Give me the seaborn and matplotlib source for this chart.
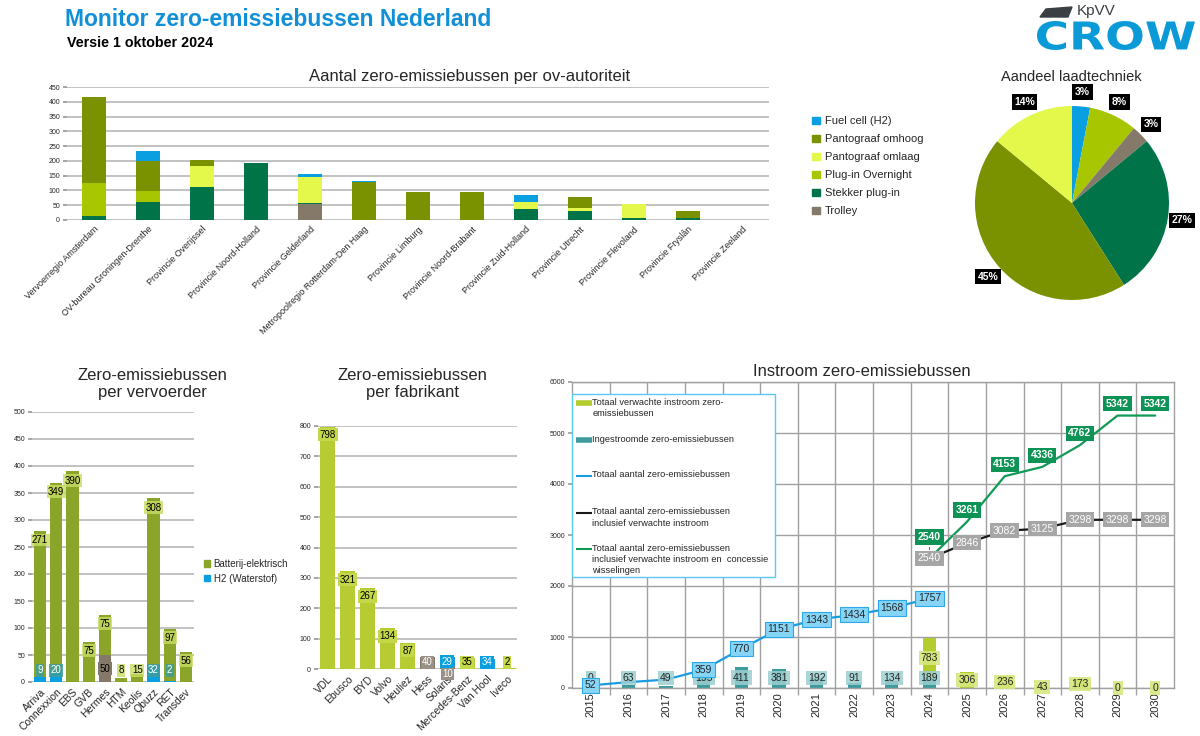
import numpy as np
import pandas as pd
import matplotlib
matplotlib.use("Agg")
import matplotlib.pyplot as plt
import seaborn as sns
from matplotlib.patches import Patch, Polygon, Rectangle, PathPatch
from matplotlib.lines import Line2D
from matplotlib.textpath import TextPath
from matplotlib.font_manager import FontProperties
from matplotlib.transforms import Affine2D

# ---------------- data ----------------
autoriteiten = ["Vervoerregio Amsterdam", "OV-bureau Groningen-Drenthe", "Provincie Overijssel",
                "Provincie Noord-Holland", "Provincie Gelderland", "Metropoolregio Rotterdam-Den Haag",
                "Provincie Limburg", "Provincie Noord-Brabant", "Provincie Zuid-Holland",
                "Provincie Utrecht", "Provincie Flevoland", "Provincie Fryslân", "Provincie Zeeland"]
trolley = [0, 0, 0, 0, 53, 0, 0, 0, 0, 0, 0, 0, 0]
stekker = [12, 62, 110, 194, 6, 0, 0, 0, 36, 29, 8, 8, 0]
overnight = [113, 35, 0, 0, 0, 0, 0, 0, 0, 0, 0, 0, 0]
omlaag = [0, 0, 74, 0, 85, 0, 0, 0, 25, 13, 45, 0, 0]
omhoog = [292, 101, 20, 0, 0, 128, 96, 95, 0, 36, 0, 22, 0]
fuelcell = [0, 35, 0, 0, 12, 3, 0, 0, 24, 0, 0, 0, 0]

laadtechniek = ["Fuel cell (H2)", "Plug-in Overnight", "Trolley", "Stekker plug-in",
                "Pantograaf omhoog", "Pantograaf omlaag"]
aandeel = [3, 8, 3, 27, 45, 14]

vervoerders = ["Arriva", "Connexxion", "EBS", "GVB", "Hermes", "HTM", "Keolis", "Qbuzz", "RET", "Transdev"]
v_trolley = [0, 0, 0, 0, 50, 0, 0, 0, 0, 0]
v_h2 = [9, 20, 0, 0, 0, 0, 0, 32, 2, 0]
v_batterij = [271, 349, 390, 75, 75, 8, 15, 308, 97, 56]

fabrikanten = ["VDL", "Ebusco", "BYD", "Volvo", "Heuliez", "Hess", "Solaris", "Mercedes-Benz", "Van Hool", "Iveco"]
f_trolley = [0, 0, 0, 0, 0, 40, 10, 0, 0, 0]
f_h2 = [0, 0, 0, 0, 0, 0, 29, 0, 34, 0]
f_batterij = [798, 321, 267, 134, 87, 0, 0, 35, 0, 2]

jaren = [str(j) for j in range(2015, 2031)]
nan = np.nan
ingestroomd = [0, 63, 49, 195, 411, 381, 192, 91, 134, 189, nan, nan, nan, nan, nan, nan]
verwacht = [nan] * 9 + [783, 306, 236, 43, 173, 0, 0]
totaal = [52, 115, 164, 359, 770, 1151, 1343, 1434, 1568, 1757, nan, nan, nan, nan, nan, nan]
incl_verwacht = [nan] * 9 + [2540, 2846, 3082, 3125, 3298, 3298, 3298]
incl_concessie = [nan] * 9 + [2540, 3261, 4153, 4336, 4762, 5342, 5342]
verborgen_labels = ["2016", "2017"]

# ---------------- style ----------------
sns.set_theme(style="white")
plt.rcParams['font.family'] = ['Liberation Sans', 'DejaVu Sans']

BLAUW = "#0a9fe0"
OMHOOG = "#7b9200"
OMLAAG = "#e3f84a"
OVERNIGHT = "#a8c600"
STEKKER = "#007448"
TROLLEY = "#857a6a"
GRID = "#bdbdbd"

fig = plt.figure(figsize=(12, 7.36), dpi=100)


def box(x0, y0, x1, y1):
    return [x0 / 1200, 1 - y1 / 736, (x1 - x0) / 1200, (y1 - y0) / 736]


def fx(x):
    return x / 1200


def fy(y):
    return 1 - y / 736


def gestapeld(ax, cats, lagen, kleuren, breedte):
    cum = np.cumsum(np.nan_to_num(np.array(lagen, dtype=float)), axis=0)
    for i in range(len(lagen) - 1, -1, -1):
        sns.barplot(x=cats, y=cum[i], color=kleuren[i], width=breedte, saturation=1,
                    errorbar=None, linewidth=0, ax=ax)
    return cum


def kaal(ax):
    for s in ax.spines.values():
        s.set_visible(False)
    ax.set_axisbelow(True)
    ax.yaxis.grid(True, color=GRID, lw=1.3)
    ax.xaxis.grid(False)
    ax.tick_params(axis="y", length=3, color="#999999", labelsize=5, pad=2, left=True)
    ax.tick_params(axis="x", length=0)
    ax.set_xlabel("")
    ax.set_ylabel("")


# ---------------- header ----------------
fig.text(fx(65), fy(20), "Monitor zero-emissiebussen Nederland", color="#1190d8",
         fontsize=16.5, fontweight="bold", va="center")
fig.text(fx(67), fy(43), "Versie 1 oktober 2024", color="black", fontsize=10.3,
         fontweight="bold", va="center")

# logo: text path stretched into its box
tp = TextPath((0, 0), "CROW", size=1, prop=FontProperties(family="DejaVu Sans", weight="bold"))
ext = tp.get_extents()
x0, x1, y0, y1 = 1037, 1195, 21, 50
logo_tf = (Affine2D().translate(-ext.x0, -ext.y0)
           .scale((x1 - x0) / 1200 / ext.width, (y1 - y0) / 736 / ext.height)
           .translate(fx(x0), fy(y1)) + fig.transFigure)
fig.patches.append(PathPatch(tp, transform=logo_tf, color="#0a9ad8", lw=0))
fig.text(fx(1077), fy(11), "KpVV", color="#3a3f44", fontsize=11, va="center", ha="left")
fig.patches.append(Polygon([(fx(1040), fy(17)), (fx(1046), fy(9)), (fx(1072), fy(7)),
                            (fx(1068), fy(17))], closed=True, transform=fig.transFigure,
                           color="#3a3f44"))

# ---------------- per ov-autoriteit ----------------
ax1 = fig.add_axes(box(67, 87, 769, 220))
lagen1 = [trolley, stekker, overnight, omlaag, omhoog, fuelcell]
kleuren1 = [TROLLEY, STEKKER, OVERNIGHT, OMLAAG, OMHOOG, BLAUW]
gestapeld(ax1, autoriteiten, lagen1, kleuren1, 0.44)
kaal(ax1)
ax1.set_ylim(0, 450)
ax1.set_yticks(range(0, 451, 50))
ax1.set_xticks(range(len(autoriteiten)))
ax1.set_xticklabels(autoriteiten, rotation=45, ha="right", rotation_mode="anchor", fontsize=6.5)
fig.text(fx(470), fy(77), "Aantal zero-emissiebussen per ov-autoriteit", ha="center",
         va="center", fontsize=12)
leg1 = [Patch(color=c, label=l) for c, l in zip(
    [BLAUW, OMHOOG, OMLAAG, OVERNIGHT, STEKKER, TROLLEY],
    ["Fuel cell (H2)", "Pantograaf omhoog", "Pantograaf omlaag", "Plug-in Overnight",
     "Stekker plug-in", "Trolley"])]
fig.legend(handles=leg1, loc="upper left", bbox_to_anchor=(fx(808), fy(112)), frameon=False,
           fontsize=8, handlelength=0.7, handleheight=0.7, handletextpad=0.4, labelspacing=0.72,
           borderaxespad=0)

# ---------------- pie ----------------
axp = fig.add_axes(box(975, 106, 1169, 300))
pie_kleur = {"Fuel cell (H2)": BLAUW, "Plug-in Overnight": OVERNIGHT, "Trolley": TROLLEY,
             "Stekker plug-in": STEKKER, "Pantograaf omhoog": OMHOOG, "Pantograaf omlaag": OMLAAG}
wedges, teksten = axp.pie(aandeel, colors=[pie_kleur[l] for l in laadtechniek], startangle=90,
                          counterclock=False, labels=[f"{a}%" for a in aandeel],
                          labeldistance=1.15, wedgeprops=dict(linewidth=0))
for t in teksten:
    t.set_ha("center")
    t.set_va("center")
    t.set_color("white")
    t.set_fontweight("bold")
    t.set_fontsize(7.5)
    t.set_bbox(dict(boxstyle="square,pad=0.25", fc="black", ec="none"))
axp.set_xlim(-1, 1)
axp.set_ylim(-1, 1)
fig.text(fx(1071), fy(77), "Aandeel laadtechniek", ha="center", va="center", fontsize=10.5)


def labels(ax, cats, lagen, label_stijl, min_y, offset):
    arr = np.nan_to_num(np.array(lagen, dtype=float))
    cum = np.cumsum(arr, axis=0)
    for li, laag in enumerate(arr):
        stijl = label_stijl[li]
        for i, v in enumerate(laag):
            if v <= 0:
                continue
            onder = cum[li][i] - v
            boven_iets = cum[-1][i] > cum[li][i]
            if stijl["mode"] == "top":
                y = max(cum[li][i] - offset, min_y)
            elif v < 15 and boven_iets and onder == 0 and stijl.get("below"):
                y = -offset * 0.6
            else:
                y = max(onder + v / 2, min_y)
            ax.text(i, y, f"{int(v)}", ha="center", va="center", fontsize=7, color=stijl["tc"],
                    bbox=dict(boxstyle="square,pad=0.15", fc=stijl["fc"], ec="none",
                              alpha=stijl.get("alpha", 1)), clip_on=False, zorder=5)


# ---------------- per vervoerder ----------------
ax3 = fig.add_axes(box(32, 412, 194, 682))
V_BAT = "#8aa52a"
lagen3 = [v_trolley, v_h2, v_batterij]
gestapeld(ax3, vervoerders, lagen3, [TROLLEY, BLAUW, V_BAT], 0.75)
kaal(ax3)
ax3.set_ylim(0, 500)
ax3.set_yticks(range(0, 501, 50))
ax3.set_xticks(range(len(vervoerders)))
ax3.set_xticklabels(vervoerders, rotation=45, ha="right", rotation_mode="anchor", fontsize=7.5)
labels(ax3, vervoerders, lagen3,
       [dict(mode="mid", fc=TROLLEY, tc="black"),
        dict(mode="mid", fc="#3f9d9a", tc="white", alpha=0.85),
        dict(mode="top", fc="#c9dd63", tc="black", alpha=0.8)], 22, 17)
fig.text(fx(152), fy(384), "Zero-emissiebussen\nper vervoerder", ha="center", va="center",
         fontsize=12, linespacing=1.1)
fig.legend(handles=[Patch(color=V_BAT, label="Batterij-elektrisch"),
                    Patch(color=BLAUW, label="H2 (Waterstof)")],
           loc="upper left", bbox_to_anchor=(fx(200), fy(555)), frameon=False, fontsize=7,
           handlelength=0.6, handleheight=0.6, handletextpad=0.4, labelspacing=0.5,
           borderaxespad=0)

# ---------------- per fabrikant ----------------
ax4 = fig.add_axes(box(318, 426, 517, 669))
F_BAT = "#b6cc32"
lagen4 = [f_trolley, f_h2, f_batterij]
gestapeld(ax4, fabrikanten, lagen4, [TROLLEY, BLAUW, F_BAT], 0.75)
kaal(ax4)
ax4.set_ylim(0, 800)
ax4.set_yticks(range(0, 801, 100))
ax4.set_xticks(range(len(fabrikanten)))
ax4.set_xticklabels(fabrikanten, rotation=45, ha="right", rotation_mode="anchor", fontsize=7.5)
labels(ax4, fabrikanten, lagen4,
       [dict(mode="mid", fc="#9a9186", tc="white", below=True),
        dict(mode="mid", fc=BLAUW, tc="white"),
        dict(mode="top", fc="#c4d84a", tc="black")], 22, 27)
fig.text(fx(412), fy(384), "Zero-emissiebussen\nper fabrikant", ha="center", va="center",
         fontsize=12, linespacing=1.1)

# ---------------- instroom ----------------
ax5 = fig.add_axes(box(572, 382, 1174, 688))
TEAL = "#3f9a9e"
I_GROEN = "#b5cc2e"
gestapeld(ax5, jaren, [ingestroomd, verwacht], [TEAL, I_GROEN], 0.35)
df = pd.DataFrame({"pos": np.arange(len(jaren)), "jaar": jaren, "totaal": totaal,
                   "incl_verwacht": incl_verwacht, "incl_concessie": incl_concessie,
                   "ingestroomd": ingestroomd, "verwacht": verwacht})
for kol, kleur in [("totaal", "#1b9be0"), ("incl_verwacht", "#1a1a1a"), ("incl_concessie", "#119a55")]:
    d = df.dropna(subset=[kol])
    sns.lineplot(data=d, x="pos", y=kol, color=kleur, lw=1.6, ax=ax5, zorder=3)

ax5.set_xlim(-0.5, len(jaren) - 0.5)
ax5.set_ylim(0, 6000)
ax5.set_yticks(range(0, 6001, 1000))
ax5.set_xticks(range(len(jaren)))
ax5.set_xticklabels(jaren, rotation=90, fontsize=8)
ax5.set_xticks(np.arange(len(jaren) - 1) + 0.5, minor=True)
ax5.set_axisbelow(True)
ax5.yaxis.grid(True, color="#a0a0a0", lw=1)
ax5.xaxis.grid(True, which="minor", color="#a0a0a0", lw=1)
ax5.xaxis.grid(False, which="major")
ax5.tick_params(axis="x", which="major", length=0, pad=3)
ax5.tick_params(axis="x", which="minor", length=5, color="#a0a0a0", bottom=True)
ax5.tick_params(axis="y", length=3, color="#a0a0a0", labelsize=5, pad=2, left=True)
ax5.set_xlabel("")
ax5.set_ylabel("")
for s in ax5.spines.values():
    s.set_color("#a0a0a0")
    s.set_linewidth(1)

for _, r in df.iterrows():
    i = r["pos"]
    if not np.isnan(r["ingestroomd"]):
        ax5.text(i, max(r["ingestroomd"] / 2, 190), f"{int(r['ingestroomd'])}", ha="center",
                 va="center", fontsize=7.5, zorder=6,
                 bbox=dict(boxstyle="square,pad=0.2", fc="#9ccfd1", ec="none", alpha=0.85))
    if not np.isnan(r["verwacht"]):
        onder = 0 if np.isnan(r["ingestroomd"]) else r["ingestroomd"]
        ax5.text(i, onder + r["verwacht"] / 2, f"{int(r['verwacht'])}", ha="center", va="center",
                 fontsize=7.5, zorder=6,
                 bbox=dict(boxstyle="square,pad=0.2", fc="#d6e77e", ec="none", alpha=0.9))
    if not np.isnan(r["totaal"]) and r["jaar"] not in verborgen_labels:
        ax5.text(i, r["totaal"], f"{int(r['totaal'])}", ha="center", va="center", fontsize=7.5,
                 zorder=7, bbox=dict(boxstyle="square,pad=0.25", fc="#86d5f7", ec="#2aa8e8", lw=0.8))
    if not np.isnan(r["incl_verwacht"]):
        ax5.text(i, r["incl_verwacht"], f"{int(r['incl_verwacht'])}", ha="center", va="center",
                 fontsize=7.5, color="white", zorder=7,
                 bbox=dict(boxstyle="square,pad=0.25", fc="#a6a6a6", ec="none"))
    if not np.isnan(r["incl_concessie"]):
        if r["incl_concessie"] == r["incl_verwacht"]:
            ax5.annotate(f"{int(r['incl_concessie'])}", xy=(i, r["incl_concessie"] + 120),
                         xytext=(i, r["incl_concessie"] + 420), ha="center", va="center",
                         fontsize=7.5, color="white", fontweight="bold", zorder=8,
                         arrowprops=dict(arrowstyle="-", color="#555555", lw=0.7),
                         bbox=dict(boxstyle="square,pad=0.25", fc="#0e9356", ec="none"))
        else:
            ax5.text(i, r["incl_concessie"] + 230, f"{int(r['incl_concessie'])}", ha="center",
                     va="center", fontsize=7.5, color="white", fontweight="bold", zorder=8,
                     bbox=dict(boxstyle="square,pad=0.25", fc="#0e9356", ec="none"))

fig.text(fx(862), fy(372), "Instroom zero-emissiebussen", ha="center", va="center", fontsize=12)

# legend box instroom (manual, entries aligned to first text line)
ax5.add_patch(Rectangle((0, 0.363), 0.337, 0.598, transform=ax5.transAxes, fc="white",
                        ec="#5bc8f0", lw=1, zorder=9))
leg5 = [(I_GROEN, 4, "Totaal verwachte instroom zero-\nemissiebussen"),
        (TEAL, 4, "Ingestroomde zero-emissiebussen"),
        ("#1b9be0", 1.5, "Totaal aantal zero-emissiebussen"),
        ("#1a1a1a", 1.5, "Totaal aantal zero-emissiebussen\ninclusief verwachte instroom"),
        ("#119a55", 1.5, "Totaal aantal zero-emissiebussen\ninclusief verwachte instroom en  concessie\nwisselingen")]
leg_y = [0.931, 0.810, 0.693, 0.572, 0.454]
for (kleur, lw, tekst), y in zip(leg5, leg_y):
    ax5.add_line(Line2D([0.007, 0.033], [y, y], transform=ax5.transAxes, color=kleur, lw=lw,
                        zorder=10, solid_capstyle="butt"))
    ax5.text(0.034, y + 0.018, tekst, transform=ax5.transAxes, fontsize=6.7, va="top", ha="left",
             zorder=10, linespacing=1.3)

fig.savefig("out.png", dpi=100)
